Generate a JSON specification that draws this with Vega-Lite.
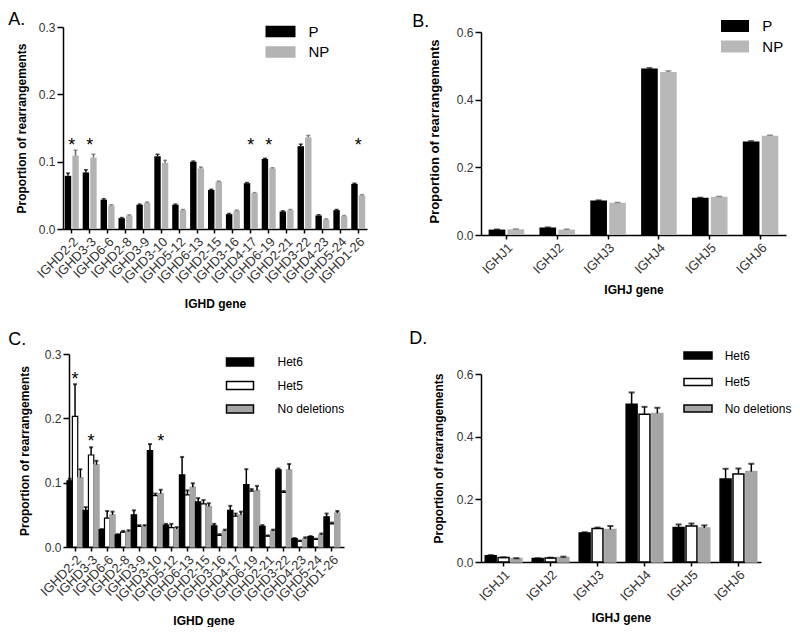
{
  "$schema": "https://vega.github.io/schema/vega-lite/v6.json",
  "padding": {"left": 8, "top": 10, "right": 0, "bottom": 0},
  "config": {
    "font": "Liberation Sans",
    "view": {"stroke": null},
    "axis": {"domainColor": "#000", "tickColor": "#000", "domainWidth": 1.5, "tickWidth": 1.5, "labelColor": "#333", "titleColor": "#000", "grid": false, "titleFontWeight": "bold", "titleFontSize": 12, "labelFontSize": 12},
    "axisX": {"labelAngle": -45, "labelFontSize": 13, "tickSize": 4, "labelPadding": 2},
    "axisY": {"tickSize": 6, "labelFontSize": 12, "labelPadding": 2},
    "title": {"fontSize": 18, "fontWeight": "normal", "anchor": "start", "frame": "bounds", "color": "#000"},
    "legend": {"title": null, "orient": "none", "padding": 0, "labelColor": "#000", "labelFont": "Liberation Sans"}
  },
  "align": "none",
  "resolve": {"scale": {"x": "independent", "y": "independent", "xOffset": "independent", "fill": "independent", "stroke": "independent", "color": "independent"}, "legend": {"fill": "independent", "stroke": "independent"}, "axis": {"x": "independent", "y": "independent"}},
  "datasets": {
    "A": [
      {"gene": "IGHD2-2", "grp": "P", "v": 0.079, "top": 0.083}, {"gene": "IGHD2-2", "grp": "NP", "v": 0.109, "top": 0.117},
      {"gene": "IGHD3-3", "grp": "P", "v": 0.084, "top": 0.088}, {"gene": "IGHD3-3", "grp": "NP", "v": 0.106, "top": 0.111},
      {"gene": "IGHD6-6", "grp": "P", "v": 0.0436, "top": 0.045}, {"gene": "IGHD6-6", "grp": "NP", "v": 0.035, "top": 0.036},
      {"gene": "IGHD2-8", "grp": "P", "v": 0.016, "top": 0.017}, {"gene": "IGHD2-8", "grp": "NP", "v": 0.020, "top": 0.021},
      {"gene": "IGHD3-9", "grp": "P", "v": 0.036, "top": 0.037}, {"gene": "IGHD3-9", "grp": "NP", "v": 0.039, "top": 0.040},
      {"gene": "IGHD3-10", "grp": "P", "v": 0.108, "top": 0.111}, {"gene": "IGHD3-10", "grp": "NP", "v": 0.098, "top": 0.102},
      {"gene": "IGHD5-12", "grp": "P", "v": 0.036, "top": 0.037}, {"gene": "IGHD5-12", "grp": "NP", "v": 0.028, "top": 0.029},
      {"gene": "IGHD6-13", "grp": "P", "v": 0.100, "top": 0.101}, {"gene": "IGHD6-13", "grp": "NP", "v": 0.090, "top": 0.092},
      {"gene": "IGHD2-15", "grp": "P", "v": 0.058, "top": 0.059}, {"gene": "IGHD2-15", "grp": "NP", "v": 0.070, "top": 0.071},
      {"gene": "IGHD3-16", "grp": "P", "v": 0.022, "top": 0.023}, {"gene": "IGHD3-16", "grp": "NP", "v": 0.027, "top": 0.028},
      {"gene": "IGHD4-17", "grp": "P", "v": 0.068, "top": 0.069}, {"gene": "IGHD4-17", "grp": "NP", "v": 0.053, "top": 0.054},
      {"gene": "IGHD6-19", "grp": "P", "v": 0.104, "top": 0.105}, {"gene": "IGHD6-19", "grp": "NP", "v": 0.090, "top": 0.091},
      {"gene": "IGHD2-21", "grp": "P", "v": 0.026, "top": 0.027}, {"gene": "IGHD2-21", "grp": "NP", "v": 0.028, "top": 0.029},
      {"gene": "IGHD3-22", "grp": "P", "v": 0.123, "top": 0.126}, {"gene": "IGHD3-22", "grp": "NP", "v": 0.136, "top": 0.139},
      {"gene": "IGHD4-23", "grp": "P", "v": 0.020, "top": 0.021}, {"gene": "IGHD4-23", "grp": "NP", "v": 0.014, "top": 0.015},
      {"gene": "IGHD5-24", "grp": "P", "v": 0.028, "top": 0.029}, {"gene": "IGHD5-24", "grp": "NP", "v": 0.019, "top": 0.020},
      {"gene": "IGHD1-26", "grp": "P", "v": 0.067, "top": 0.068}, {"gene": "IGHD1-26", "grp": "NP", "v": 0.050, "top": 0.051}
    ],
    "starsA": [
      {"gene": "IGHD2-2", "y": 0.13}, {"gene": "IGHD3-3", "y": 0.13}, {"gene": "IGHD4-17", "y": 0.13}, {"gene": "IGHD6-19", "y": 0.13}, {"gene": "IGHD1-26", "y": 0.13}
    ],
    "B": [
      {"gene": "IGHJ1", "grp": "P", "v": 0.016, "top": 0.017}, {"gene": "IGHJ1", "grp": "NP", "v": 0.017, "top": 0.018},
      {"gene": "IGHJ2", "grp": "P", "v": 0.022, "top": 0.023}, {"gene": "IGHJ2", "grp": "NP", "v": 0.016, "top": 0.017},
      {"gene": "IGHJ3", "grp": "P", "v": 0.102, "top": 0.103}, {"gene": "IGHJ3", "grp": "NP", "v": 0.095, "top": 0.096},
      {"gene": "IGHJ4", "grp": "P", "v": 0.492, "top": 0.494}, {"gene": "IGHJ4", "grp": "NP", "v": 0.482, "top": 0.485},
      {"gene": "IGHJ5", "grp": "P", "v": 0.110, "top": 0.111}, {"gene": "IGHJ5", "grp": "NP", "v": 0.113, "top": 0.114},
      {"gene": "IGHJ6", "grp": "P", "v": 0.276, "top": 0.278}, {"gene": "IGHJ6", "grp": "NP", "v": 0.293, "top": 0.295}
    ],
    "C": [
      {"gene": "IGHD2-2", "grp": "Het6", "v": 0.103, "top": 0.106}, {"gene": "IGHD2-2", "grp": "Het5", "v": 0.203, "top": 0.253}, {"gene": "IGHD2-2", "grp": "No deletions", "v": 0.108, "top": 0.121},
      {"gene": "IGHD3-3", "grp": "Het6", "v": 0.057, "top": 0.062}, {"gene": "IGHD3-3", "grp": "Het5", "v": 0.143, "top": 0.155}, {"gene": "IGHD3-3", "grp": "No deletions", "v": 0.128, "top": 0.134},
      {"gene": "IGHD6-6", "grp": "Het6", "v": 0.027, "top": 0.028}, {"gene": "IGHD6-6", "grp": "Het5", "v": 0.045, "top": 0.056}, {"gene": "IGHD6-6", "grp": "No deletions", "v": 0.050, "top": 0.055},
      {"gene": "IGHD2-8", "grp": "Het6", "v": 0.019, "top": 0.020}, {"gene": "IGHD2-8", "grp": "Het5", "v": 0.023, "top": 0.025}, {"gene": "IGHD2-8", "grp": "No deletions", "v": 0.024, "top": 0.026},
      {"gene": "IGHD3-9", "grp": "Het6", "v": 0.050, "top": 0.057}, {"gene": "IGHD3-9", "grp": "Het5", "v": 0.032, "top": 0.034}, {"gene": "IGHD3-9", "grp": "No deletions", "v": 0.032, "top": 0.034},
      {"gene": "IGHD3-10", "grp": "Het6", "v": 0.150, "top": 0.160}, {"gene": "IGHD3-10", "grp": "Het5", "v": 0.080, "top": 0.083}, {"gene": "IGHD3-10", "grp": "No deletions", "v": 0.083, "top": 0.089},
      {"gene": "IGHD5-12", "grp": "Het6", "v": 0.034, "top": 0.036}, {"gene": "IGHD5-12", "grp": "Het5", "v": 0.030, "top": 0.036}, {"gene": "IGHD5-12", "grp": "No deletions", "v": 0.028, "top": 0.031},
      {"gene": "IGHD6-13", "grp": "Het6", "v": 0.112, "top": 0.140}, {"gene": "IGHD6-13", "grp": "Het5", "v": 0.081, "top": 0.088}, {"gene": "IGHD6-13", "grp": "No deletions", "v": 0.093, "top": 0.099},
      {"gene": "IGHD2-15", "grp": "Het6", "v": 0.070, "top": 0.076}, {"gene": "IGHD2-15", "grp": "Het5", "v": 0.067, "top": 0.073}, {"gene": "IGHD2-15", "grp": "No deletions", "v": 0.063, "top": 0.068},
      {"gene": "IGHD3-16", "grp": "Het6", "v": 0.033, "top": 0.036}, {"gene": "IGHD3-16", "grp": "Het5", "v": 0.018, "top": 0.020}, {"gene": "IGHD3-16", "grp": "No deletions", "v": 0.025, "top": 0.027},
      {"gene": "IGHD4-17", "grp": "Het6", "v": 0.057, "top": 0.064}, {"gene": "IGHD4-17", "grp": "Het5", "v": 0.048, "top": 0.052}, {"gene": "IGHD4-17", "grp": "No deletions", "v": 0.050, "top": 0.055},
      {"gene": "IGHD6-19", "grp": "Het6", "v": 0.097, "top": 0.121}, {"gene": "IGHD6-19", "grp": "Het5", "v": 0.087, "top": 0.090}, {"gene": "IGHD6-19", "grp": "No deletions", "v": 0.088, "top": 0.095},
      {"gene": "IGHD2-21", "grp": "Het6", "v": 0.032, "top": 0.034}, {"gene": "IGHD2-21", "grp": "Het5", "v": 0.017, "top": 0.018}, {"gene": "IGHD2-21", "grp": "No deletions", "v": 0.025, "top": 0.027},
      {"gene": "IGHD3-22", "grp": "Het6", "v": 0.120, "top": 0.122}, {"gene": "IGHD3-22", "grp": "Het5", "v": 0.085, "top": 0.087}, {"gene": "IGHD3-22", "grp": "No deletions", "v": 0.120, "top": 0.129},
      {"gene": "IGHD4-23", "grp": "Het6", "v": 0.013, "top": 0.014}, {"gene": "IGHD4-23", "grp": "Het5", "v": 0.009, "top": 0.010}, {"gene": "IGHD4-23", "grp": "No deletions", "v": 0.013, "top": 0.015},
      {"gene": "IGHD5-24", "grp": "Het6", "v": 0.016, "top": 0.017}, {"gene": "IGHD5-24", "grp": "Het5", "v": 0.012, "top": 0.013}, {"gene": "IGHD5-24", "grp": "No deletions", "v": 0.019, "top": 0.021},
      {"gene": "IGHD1-26", "grp": "Het6", "v": 0.047, "top": 0.052}, {"gene": "IGHD1-26", "grp": "Het5", "v": 0.036, "top": 0.038}, {"gene": "IGHD1-26", "grp": "No deletions", "v": 0.053, "top": 0.056}
    ],
    "starsC": [
      {"gene": "IGHD2-2", "grp": "Het5", "y": 0.267}, {"gene": "IGHD3-3", "grp": "Het5", "y": 0.171}, {"gene": "IGHD3-10", "grp": "No deletions", "y": 0.171}
    ],
    "D": [
      {"gene": "IGHJ1", "grp": "Het6", "v": 0.020, "top": 0.022}, {"gene": "IGHJ1", "grp": "Het5", "v": 0.014, "top": 0.015}, {"gene": "IGHJ1", "grp": "No deletions", "v": 0.011, "top": 0.012},
      {"gene": "IGHJ2", "grp": "Het6", "v": 0.011, "top": 0.012}, {"gene": "IGHJ2", "grp": "Het5", "v": 0.013, "top": 0.014}, {"gene": "IGHJ2", "grp": "No deletions", "v": 0.014, "top": 0.017},
      {"gene": "IGHJ3", "grp": "Het6", "v": 0.093, "top": 0.095}, {"gene": "IGHJ3", "grp": "Het5", "v": 0.107, "top": 0.110}, {"gene": "IGHJ3", "grp": "No deletions", "v": 0.104, "top": 0.115},
      {"gene": "IGHJ4", "grp": "Het6", "v": 0.504, "top": 0.542}, {"gene": "IGHJ4", "grp": "Het5", "v": 0.472, "top": 0.496}, {"gene": "IGHJ4", "grp": "No deletions", "v": 0.475, "top": 0.493},
      {"gene": "IGHJ5", "grp": "Het6", "v": 0.110, "top": 0.120}, {"gene": "IGHJ5", "grp": "Het5", "v": 0.115, "top": 0.123}, {"gene": "IGHJ5", "grp": "No deletions", "v": 0.109, "top": 0.117},
      {"gene": "IGHJ6", "grp": "Het6", "v": 0.265, "top": 0.298}, {"gene": "IGHJ6", "grp": "Het5", "v": 0.281, "top": 0.299}, {"gene": "IGHJ6", "grp": "No deletions", "v": 0.289, "top": 0.314}
    ]
  },
  "spacing": 20,
  "vconcat": [
    {
      "spacing": 45,
      "align": "none",
      "resolve": {"scale": {"x": "independent", "y": "independent", "xOffset": "independent", "fill": "independent", "stroke": "independent", "color": "independent"}, "legend": {"fill": "independent", "stroke": "independent"}},
      "hconcat": [
        {
          "title": {"text": "A.", "offset": -9, "dx": -7},
          "width": 304, "height": 202,
          "data": {"name": "A"},
          "encoding": {
            "x": {"field": "gene", "type": "nominal", "sort": null, "scale": {"paddingInner": 0.22, "paddingOuter": 0.1}, "axis": {"title": "IGHD gene", "titlePadding": 13}}
          },
          "layer": [
            {
              "mark": {"type": "bar"},
              "encoding": {
                "xOffset": {"field": "grp", "type": "nominal", "sort": ["P", "NP"], "scale": {"paddingInner": 0.15}},
                "y": {"field": "v", "type": "quantitative", "scale": {"domain": [0, 0.3]}, "axis": {"values": [0, 0.1, 0.2, 0.3], "format": ".1f", "title": "Proportion of rearrangements", "titlePadding": 10}},
                "fill": {"field": "grp", "type": "nominal", "sort": ["P", "NP"], "scale": {"range": ["#000000", "#b3b3b3"]},
                  "legend": {"legendX": 205.5, "legendY": -7.5, "symbolType": "M-1.25,-0.48H1.25V0.48H-1.25Z", "symbolSize": 576, "symbolStrokeWidth": 0, "labelFontSize": 15, "labelOffset": 16, "rowPadding": 0.5}}
              }
            },
            {
              "mark": {"type": "rule", "strokeWidth": 1.5},
              "encoding": {
                "xOffset": {"field": "grp", "type": "nominal", "sort": ["P", "NP"]},
                "y": {"field": "v", "type": "quantitative"}, "y2": {"field": "top"},
                "stroke": {"condition": {"test": "datum.grp === 'NP'", "value": "#666666"}, "value": "#000000"}
              }
            },
            {
              "mark": {"type": "tick", "orient": "horizontal", "size": 4, "thickness": 1.5},
              "encoding": {
                "xOffset": {"field": "grp", "type": "nominal", "sort": ["P", "NP"]},
                "y": {"field": "top", "type": "quantitative"},
                "color": {"condition": {"test": "datum.grp === 'NP'", "value": "#666666"}, "value": "#000000"}
              }
            },
            {
              "data": {"name": "starsA"},
              "mark": {"type": "text", "text": "*", "fontSize": 18, "baseline": "middle", "dy": 5, "color": "#000"},
              "encoding": {"y": {"field": "y", "type": "quantitative"}}
            }
          ]
        },
        {
          "title": {"text": "B.", "offset": -15, "dx": -16},
          "width": 305, "height": 208,
          "data": {"name": "B"},
          "encoding": {
            "x": {"field": "gene", "type": "nominal", "sort": null, "scale": {"paddingInner": 0.3, "paddingOuter": 0.15}, "axis": {"title": "IGHJ gene", "titlePadding": 8}}
          },
          "layer": [
            {
              "mark": {"type": "bar"},
              "encoding": {
                "xOffset": {"field": "grp", "type": "nominal", "sort": ["P", "NP"], "scale": {"paddingInner": 0.12}},
                "y": {"field": "v", "type": "quantitative", "scale": {"domain": [0, 0.6148], "nice": false}, "axis": {"values": [0, 0.2, 0.4, 0.6], "format": ".1f", "title": "Proportion of rearrangements", "titleFontSize": 13, "titlePadding": 15, "domainDash": [203, 60]}},
                "fill": {"field": "grp", "type": "nominal", "sort": ["P", "NP"], "scale": {"range": ["#000000", "#b8b8b8"]},
                  "legend": {"legendX": 243.5, "legendY": -11.5, "symbolType": "M-1.333,-0.571H1.333V0.571H-1.333Z", "symbolSize": 441, "symbolStrokeWidth": 0, "labelFontSize": 15, "labelOffset": 16.8, "rowPadding": 1.5}}
              }
            },
            {
              "mark": {"type": "rule", "strokeWidth": 1.5},
              "encoding": {
                "xOffset": {"field": "grp", "type": "nominal", "sort": ["P", "NP"]},
                "y": {"field": "v", "type": "quantitative"}, "y2": {"field": "top"},
                "stroke": {"condition": {"test": "datum.grp === 'NP'", "value": "#666666"}, "value": "#000000"}
              }
            },
            {
              "mark": {"type": "tick", "orient": "horizontal", "size": 6, "thickness": 1.5},
              "encoding": {
                "xOffset": {"field": "grp", "type": "nominal", "sort": ["P", "NP"]},
                "y": {"field": "top", "type": "quantitative"},
                "color": {"condition": {"test": "datum.grp === 'NP'", "value": "#666666"}, "value": "#000000"}
              }
            }
          ]
        }
      ]
    },
    {
      "spacing": 64,
      "align": "none",
      "resolve": {"scale": {"x": "independent", "y": "independent", "xOffset": "independent", "fill": "independent", "stroke": "independent", "color": "independent"}, "legend": {"fill": "independent", "stroke": "independent"}},
      "hconcat": [
        {
          "title": {"text": "C.", "offset": -1, "dx": -10},
          "width": 281, "height": 193,
          "data": {"name": "C"},
          "encoding": {
            "x": {"field": "gene", "type": "nominal", "sort": null, "scale": {"paddingInner": 0, "paddingOuter": 0.25}, "axis": {"title": "IGHD gene", "titlePadding": 12, "domainDash": [0, 6, 275, 60]}}
          },
          "layer": [
            {
              "mark": {"type": "bar", "strokeWidth": 1.2},
              "encoding": {
                "xOffset": {"field": "grp", "type": "nominal", "sort": ["Het6", "Het5", "No deletions"], "scale": {"paddingInner": 0}},
                "y": {"field": "v", "type": "quantitative", "scale": {"domain": [0, 0.3]}, "axis": {"values": [0, 0.1, 0.2, 0.3], "format": ".1f", "title": "Proportion of rearrangements", "titlePadding": 13, "offset": -6}},
                "fill": {"field": "grp", "type": "nominal", "sort": ["Het6", "Het5", "No deletions"], "scale": {"range": ["#000000", "#ffffff", "#a6a6a6"]},
                  "legend": {"legendX": 165, "legendY": -4, "symbolType": "M-1.227,-0.364H1.227V0.364H-1.227Z", "symbolSize": 484, "symbolStrokeWidth": 1.5, "labelFontSize": 12, "labelOffset": 25.5, "rowPadding": 3.5,
                    "encode": {"symbols": {"update": {"stroke": {"signal": "datum.value === 'No deletions' ? '#a6a6a6' : '#000000'"}}}}}},
                "stroke": {"condition": {"test": "datum.grp === 'No deletions'", "value": "#a6a6a6"}, "value": "#000000"}
              }
            },
            {
              "mark": {"type": "rule", "strokeWidth": 1.5, "color": "#000"},
              "encoding": {
                "xOffset": {"field": "grp", "type": "nominal", "sort": ["Het6", "Het5", "No deletions"]},
                "y": {"field": "v", "type": "quantitative"}, "y2": {"field": "top"}
              }
            },
            {
              "mark": {"type": "tick", "orient": "horizontal", "size": 4, "thickness": 2, "color": "#000"},
              "encoding": {
                "xOffset": {"field": "grp", "type": "nominal", "sort": ["Het6", "Het5", "No deletions"]},
                "y": {"field": "top", "type": "quantitative"}
              }
            },
            {
              "data": {"name": "starsC"},
              "mark": {"type": "text", "text": "*", "fontSize": 18, "baseline": "middle", "dy": 5, "color": "#000"},
              "encoding": {
                "xOffset": {"field": "grp", "type": "nominal", "sort": ["Het6", "Het5", "No deletions"]},
                "y": {"field": "y", "type": "quantitative"}
              }
            }
          ]
        },
        {
          "title": {"text": "D.", "offset": -5.5, "dx": -23},
          "width": 280, "height": 208,
          "data": {"name": "D"},
          "encoding": {
            "x": {"field": "gene", "type": "nominal", "sort": null, "scale": {"paddingInner": 0.22, "paddingOuter": 0.09}, "axis": {"title": "IGHJ gene", "titlePadding": 9}}
          },
          "layer": [
            {
              "mark": {"type": "bar", "strokeWidth": 1.5},
              "encoding": {
                "xOffset": {"field": "grp", "type": "nominal", "sort": ["Het6", "Het5", "No deletions"], "scale": {"paddingInner": 0.15}},
                "y": {"field": "v", "type": "quantitative", "scale": {"domain": [0, 0.6649], "nice": false}, "axis": {"values": [0, 0.2, 0.4, 0.6], "format": ".1f", "title": "Proportion of rearrangements", "titlePadding": 11, "domainDash": [188, 60]}},
                "fill": {"field": "grp", "type": "nominal", "sort": ["Het6", "Het5", "No deletions"], "scale": {"range": ["#000000", "#ffffff", "#a6a6a6"]},
                  "legend": {"legendX": 204, "legendY": -11.5, "symbolType": "M-1.167,-0.29H1.167V0.29H-1.167Z", "symbolSize": 576, "symbolStrokeWidth": 1.5, "labelFontSize": 12, "labelOffset": 13.7, "rowPadding": 6.5,
                    "encode": {"symbols": {"update": {"stroke": {"signal": "datum.value === 'No deletions' ? '#a6a6a6' : '#000000'"}}}}}},
                "stroke": {"condition": {"test": "datum.grp === 'No deletions'", "value": "#a6a6a6"}, "value": "#000000"}
              }
            },
            {
              "mark": {"type": "rule", "strokeWidth": 1.5, "color": "#000"},
              "encoding": {
                "xOffset": {"field": "grp", "type": "nominal", "sort": ["Het6", "Het5", "No deletions"]},
                "y": {"field": "v", "type": "quantitative"}, "y2": {"field": "top"}
              }
            },
            {
              "mark": {"type": "tick", "orient": "horizontal", "size": 6, "thickness": 2, "color": "#000"},
              "encoding": {
                "xOffset": {"field": "grp", "type": "nominal", "sort": ["Het6", "Het5", "No deletions"]},
                "y": {"field": "top", "type": "quantitative"}
              }
            }
          ]
        }
      ]
    }
  ]
}
